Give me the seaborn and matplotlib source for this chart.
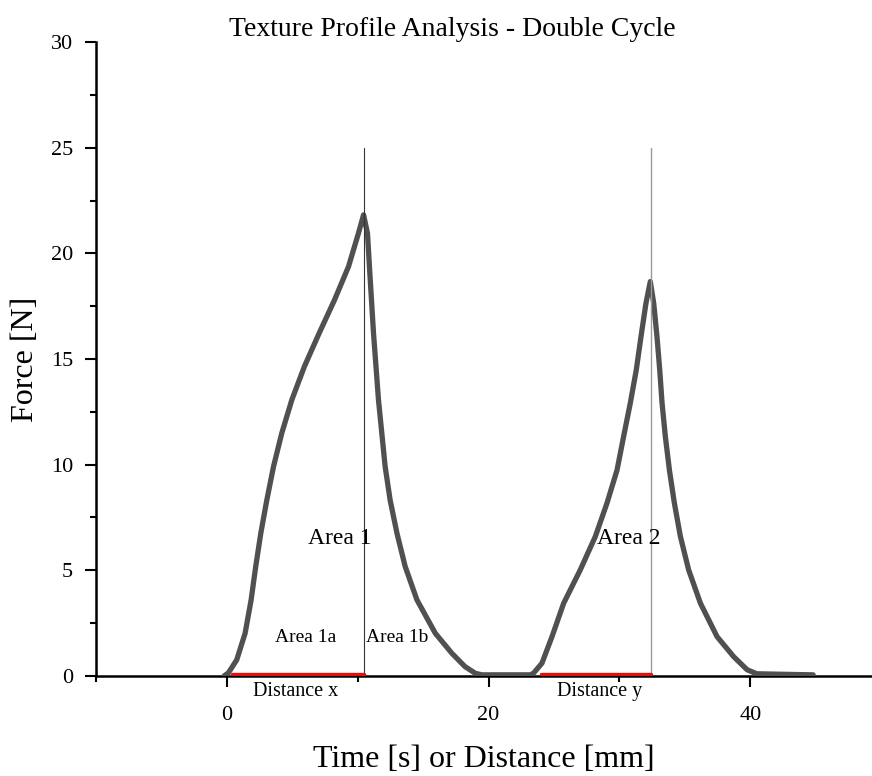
import numpy as np
import pandas as pd
import matplotlib
matplotlib.use("Agg")
import matplotlib.pyplot as plt
from matplotlib.ticker import MultipleLocator
import seaborn as sns

# Force curve (two compression cycles)
time_pts = [-0.2, 0.12, 0.76, 1.4, 1.86, 2.21, 2.6, 3.06, 3.57, 4.2, 4.97, 5.93, 7.06,
            8.23, 9.3, 10.06, 10.45,
            10.75, 10.9, 11.21, 11.59, 12.1, 12.48, 13.0, 13.63, 14.53, 15.93,
            17.2, 18.2, 19.0, 19.5,
            23.2, 23.44, 24.08, 24.85, 25.74, 27.01, 28.16, 29.05, 29.82, 30.32,
            30.83, 31.29, 31.65, 32.03, 32.36,
            32.62, 32.87, 33.08, 33.26, 33.51, 33.82, 34.2, 34.66, 35.29, 36.19,
            37.46, 38.73, 39.76, 40.5, 44.8]
force_pts = [0.0, 0.14, 0.76, 2.02, 3.6, 5.18, 6.76, 8.33, 9.91, 11.49, 13.07, 14.65, 16.23,
             17.8, 19.38, 20.96, 21.83,
             20.96, 19.38, 16.23, 13.07, 9.91, 8.33, 6.76, 5.18, 3.6, 2.02,
             1.07, 0.44, 0.12, 0.05,
             0.05, 0.13, 0.6, 1.86, 3.44, 5.02, 6.6, 8.18, 9.75, 11.33,
             12.91, 14.49, 16.07, 17.65, 18.67,
             17.65, 16.07, 14.49, 12.91, 11.33, 9.75, 8.18, 6.6, 5.02, 3.44,
             1.86, 0.91, 0.29, 0.1, 0.05]

# peak markers and distance spans
peak_times = [10.45, 32.4]
peak_line_top = 25
dist_x = [0.4, 10.5]
dist_y = [24.0, 32.4]

labels = ["Area 1", "Area 1a", "Area 1b", "Distance x", "Area 2", "Distance y"]
label_x = [8.66, 6.06, 13.0, 5.27, 30.7, 28.5]
label_y = [6.5, 1.8, 1.8, -0.75, 6.5, -0.75]
label_size = [17, 14, 14, 14.5, 17, 14.5]

sns.set_style("ticks")
plt.rcParams["font.family"] = ["Liberation Serif", "DejaVu Serif"]
plt.rcParams["text.color"] = "black"
plt.rcParams["axes.labelcolor"] = "black"
plt.rcParams["xtick.color"] = "black"
plt.rcParams["ytick.color"] = "black"

df = pd.DataFrame({"time": time_pts, "force": force_pts})

fig = plt.figure(figsize=(8.72, 7.76), dpi=100)
ax = fig.add_axes([0.110, 0.129, 0.89, 0.8165])

sns.lineplot(data=df, x="time", y="force", sort=False, estimator=None,
             color="#505050", linewidth=3.8, ax=ax, zorder=3,
             solid_joinstyle="round", solid_capstyle="round")

ax.plot(peak_times[:1] * 2, [0, peak_line_top], color="#333333", linewidth=0.8, zorder=4)
ax.plot(peak_times[1:] * 2, [0, peak_line_top], color="#999999", linewidth=1.0, zorder=4)
ax.plot(dist_x, [0.08, 0.08], color="#e01010", linewidth=2.4, zorder=5)
ax.plot(dist_y, [0.08, 0.08], color="#e01010", linewidth=2.4, zorder=5)

for t, lx, ly, fs in zip(labels, label_x, label_y, label_size):
    ax.text(lx, ly, t, fontsize=fs, ha="center", va="center", zorder=6)

ax.set_xlim(-10, 49.3)
ax.set_ylim(0, 30)
ax.xaxis.set_major_locator(MultipleLocator(20))
ax.xaxis.set_minor_locator(MultipleLocator(10))
ax.yaxis.set_major_locator(MultipleLocator(5))
ax.yaxis.set_minor_locator(MultipleLocator(2.5))
ax.tick_params(which="major", length=8, width=1.5, labelsize=16, direction="out")
ax.tick_params(which="minor", length=4.5, width=1.5, direction="out")
ax.tick_params(axis="x", pad=14)
ax.tick_params(axis="y", pad=8.5)

ax.spines["top"].set_visible(False)
ax.spines["right"].set_visible(False)
for s in ["left", "bottom"]:
    ax.spines[s].set_linewidth(1.8)
    ax.spines[s].set_color("black")
ax.spines["bottom"].set_zorder(2)

ax.set_xlabel("Time [s] or Distance [mm]", fontsize=23, labelpad=14)
ax.set_ylabel("Force [N]", fontsize=23, labelpad=8)
ax.set_title("Texture Profile Analysis - Double Cycle", fontsize=20, x=0.459, pad=0.5)

fig.savefig("out.png", dpi=100)
